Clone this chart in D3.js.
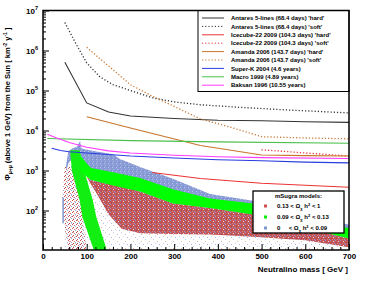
<!DOCTYPE html>
<html>
<head>
<meta charset="utf-8">
<script src="https://cdn.jsdelivr.net/npm/d3@7"></script>
<style>
  body { margin: 0; background: #fff; }
  svg { display: block; font-family: "Liberation Sans", Arial, sans-serif; font-weight: bold; }
</style>
</head>
<body>
<svg id="chart" width="374" height="281"></svg>
<script>
// limits, [mass GeV, flux km^-2 y^-1]
const antaresHard = [[50, 5.1e5], [100, 4.9e4], [150, 2.9e4], [200, 2.3e4], [300, 2.0e4], [400, 1.8e4], [500, 1.75e4], [600, 1.65e4], [700, 1.6e4]];
const antaresSoft = [[50, 5.0e6], [75, 1.5e6], [100, 4.9e5], [130, 2.2e5], [160, 1.4e5], [200, 1.0e5], [250, 6.6e4], [300, 5.2e4], [360, 4.4e4], [450, 3.8e4], [550, 3.3e4], [700, 2.75e4]];
const icecubeHard = [[250, 890], [360, 630], [500, 480], [700, 380]];
const icecubeSoft = [[500, 3300], [600, 2750], [700, 2300]];
const amandaHard = [[100, 2.2e4], [200, 1.15e4], [360, 4200], [500, 2450], [600, 2350], [700, 2300]];
const amandaSoft = [[100, 1.2e6], [150, 4.1e5], [200, 1.4e5], [250, 7.2e4], [300, 4.0e4], [360, 1.95e4], [430, 1.2e4], [500, 7000], [600, 6500], [700, 6200]];
const superK = [[20, 3600], [40, 3150], [60, 2950], [100, 2750], [200, 2300], [300, 2050], [400, 1850], [500, 1750], [600, 1620], [700, 1550]];
const macro = [[10, 6300], [200, 5600], [400, 5200], [700, 4800]];
const baksan = [[10, 8100], [30, 6600], [60, 5000], [100, 3800], [150, 3100], [200, 2750], [300, 2400], [400, 2200], [500, 2100], [700, 2000]];

// mSugra scan outlines: [mass, upper flux, lower flux]
const blueCloud = [[50, 20, 20], [53, 1400, 1000], [58, 3000, 1500], [66, 3500, 1900], [78, 4000, 2300], [85, 5500, 2600], [88, 3600, 2200], [95, 3400, 1600], [110, 3150, 580], [130, 2900, 480], [160, 2550, 420], [176, 1950, 380], [222, 1230, 300], [297, 620, 150], [382, 260, 115], [480, 175, 80], [600, 85, 37], [700, 44, 20]];
const greenBand = [[85, 2400, 1000], [100, 1500, 700], [110, 1150, 580], [160, 900, 420], [222, 650, 300], [297, 340, 150], [382, 200, 115], [480, 150, 80], [600, 64, 37], [700, 36, 20]];
const redCloud = [[100, 700, 700], [110, 580, 450], [120, 530, 300], [150, 460, 80], [180, 400, 35], [222, 300, 27], [297, 150, 26], [382, 115, 25], [480, 80, 22], [600, 37, 18], [700, 20, 12]];
// [flux, left mass, right mass]
const greenStreak = [[3200, 62, 84], [1000, 66, 94], [180, 84, 114], [69, 90, 122], [12, 114, 144], [10.3, 116, 145]];
const redWedge = [[1300, 50, 70], [200, 44, 88], [25, 52, 95], [10.3, 58, 100]];
const blueStreak = [[46, 210], [46, 48]];

const xTicks = [0, 100, 200, 300, 400, 500, 600, 700];
const yExponents = [2, 3, 4, 5, 6, 7];

const series = [
  { name: "Antares 5-lines (68.4 days) 'hard'", data: antaresHard, color: "#333", dash: null },
  { name: "Antares 5-lines (68.4 days) 'soft'", data: antaresSoft, color: "#333", dash: "1.2,2" },
  { name: "Icecube-22 2009 (104.3 days) 'hard'", data: icecubeHard, color: "#ec3232", dash: null },
  { name: "Icecube-22 2009 (104.3 days) 'soft'", data: icecubeSoft, color: "#ec3232", dash: "1.2,2" },
  { name: "Amanda 2006 (143.7 days) 'hard'", data: amandaHard, color: "#c8742c", dash: null },
  { name: "Amanda 2006 (143.7 days) 'soft'", data: amandaSoft, color: "#c8742c", dash: "1.2,2" },
  { name: "Super-K 2004 (4.6 years)", data: superK, color: "#2a3de0", dash: null },
  { name: "Macro 1999 (4.89 years)", data: macro, color: "#4cbf4c", dash: null },
  { name: "Baksan 1996 (10.55 years)", data: baksan, color: "#ff3cff", dash: null },
];

const svg = d3.select("#chart");
const x = d3.scaleLinear().domain([0, 700]).range([43, 349]);
const y = d3.scaleLog().domain([10.3, 1e7]).range([250, 10.5]);

const defs = svg.append("defs");
defs.append("clipPath").attr("id", "plot")
  .append("rect").attr("x", 43).attr("y", 10.5).attr("width", 306).attr("height", 239.5);

function addPattern(id, w, h, base, dots) {
  const p = defs.append("pattern").attr("id", id).attr("patternUnits", "userSpaceOnUse")
    .attr("width", w).attr("height", h);
  if (base) p.append("rect").attr("width", w).attr("height", h).attr("fill", base);
  dots.forEach(([dx, dy, c]) => p.append("rect").attr("x", dx).attr("y", dy).attr("width", 1).attr("height", 1).attr("fill", c));
}
addPattern("sparse", 8, 7, null, [[1, 1, "#c3cceb"], [5, 3, "#e0b0b0"], [3, 5, "#d0d7f0"], [7, 6, "#aab7e2"]]);
addPattern("blueMix", 4, 4, "#8a9cd5", [[1, 1, "#aab7e3"], [3, 2, "#758bce"], [0, 3, "#b9c3ea"]]);
addPattern("redMix", 5, 4, "#c45456", [[0, 0, "#8a9bd3"], [3, 1, "#ead6d8"], [1, 2, "#a84a4a"], [4, 3, "#8a9bd3"], [2, 3, "#d88080"]]);
addPattern("redSparse", 4, 4, null, [[0, 0, "#c85050"], [2, 1, "#d67a7a"], [1, 3, "#b84848"], [3, 2, "#9aa8d8"]]);

const line = d3.line().x((d) => x(d[0])).y((d) => y(d[1]));
const band = d3.area().x((d) => x(d[0])).y0((d) => y(d[2])).y1((d) => y(d[1]));
const strip = d3.area().y((d) => y(d[0])).x0((d) => x(d[1])).x1((d) => x(d[2]));

const clouds = svg.append("g").attr("clip-path", "url(#plot)");
clouds.append("path").attr("d", band(blueCloud.map((d) => [d[0], d[1], 10.3]))).attr("fill", "url(#sparse)");
clouds.append("path").attr("d", band(blueCloud)).attr("fill", "url(#blueMix)");
clouds.append("path").attr("d", band(redCloud)).attr("fill", "url(#redMix)");
clouds.append("path").attr("d", strip(redWedge)).attr("fill", "url(#redSparse)");
clouds.append("path").attr("d", strip(greenStreak)).attr("fill", "#12ee12");
clouds.append("path").attr("d", band(greenBand)).attr("fill", "#00ff00");
clouds.append("path").attr("d", line(blueStreak)).attr("stroke", "#7f96d0").attr("stroke-width", 1.5);

const lines = svg.append("g").attr("clip-path", "url(#plot)").attr("fill", "none");
series.forEach((s) => {
  lines.append("path").attr("d", line(s.data)).attr("stroke", s.color)
    .attr("stroke-width", s.dash ? 1.3 : 1.1).attr("stroke-dasharray", s.dash);
});

// axes
const minorY = [];
for (let e = 1; e < 7; e++) for (let k = 2; k < 10; k++) if (k * 10 ** e >= 10.3) minorY.push(k * 10 ** e);
svg.append("g").attr("transform", "translate(43,0)")
  .call(d3.axisLeft(y).tickValues(minorY).tickSize(-3).tickFormat(""))
  .call((g) => g.select(".domain").remove());
const yAxis = svg.append("g").attr("transform", "translate(43,0)")
  .call(d3.axisLeft(y).tickValues(yExponents.map((e) => 10 ** e)).tickSize(-6).tickFormat(""));
yAxis.select(".domain").remove();
yExponents.forEach((e) => {
  const t = svg.append("text").attr("x", 38).attr("y", y(10 ** e) + 3).attr("text-anchor", "end")
    .attr("font-size", 8);
  t.append("tspan").text("10");
  t.append("tspan").attr("dy", -3.5).attr("font-size", 5.5).text(e);
});

svg.append("g").attr("transform", "translate(0,250)")
  .call(d3.axisBottom(x).tickValues(d3.range(0, 701, 20).filter((v) => v % 100)).tickSize(-3).tickFormat(""))
  .call((g) => g.select(".domain").remove());
svg.append("g").attr("transform", "translate(0,250)")
  .call(d3.axisBottom(x).tickValues(xTicks).tickSize(-6).tickPadding(3))
  .call((g) => g.select(".domain").remove())
  .selectAll("text").attr("font-size", 8).attr("font-family", "Liberation Sans, Arial").attr("font-weight", "bold");

svg.append("text").attr("x", 348).attr("y", 272).attr("text-anchor", "end").attr("font-size", 8)
  .text("Neutralino mass  [ GeV ]");

const yt = svg.append("text").attr("transform", "translate(10,104) rotate(-90)").attr("text-anchor", "middle")
  .attr("font-size", 7.5);
yt.append("tspan").text("Φ");
yt.append("tspan").attr("dy", 2).attr("font-size", 5).text("μ+μ");
yt.append("tspan").attr("dy", -2).text(" (above 1 GeV) from the Sun  [ km");
yt.append("tspan").attr("dy", -3).attr("font-size", 5).text("-2");
yt.append("tspan").attr("dy", 3).text(" y");
yt.append("tspan").attr("dy", -3).attr("font-size", 5).text("-1");
yt.append("tspan").attr("dy", 3).text(" ]");

// legend of limits
const leg = svg.append("g");
leg.append("rect").attr("x", 198).attr("y", 10.5).attr("width", 151).attr("height", 81)
  .attr("fill", "#fff").attr("stroke", "#000").attr("stroke-width", 1);
series.forEach((s, i) => {
  const ly = 18 + i * 8.4;
  leg.append("line").attr("x1", 202).attr("x2", 224).attr("y1", ly).attr("y2", ly)
    .attr("stroke", s.color).attr("stroke-width", 1).attr("stroke-dasharray", s.dash);
  leg.append("text").attr("x", 231).attr("y", ly + 2.2).attr("font-size", 6).text(s.name);
});

// legend of mSugra models
const legM = svg.append("g");
legM.append("rect").attr("x", 253).attr("y", 191).attr("width", 91).attr("height", 42)
  .attr("fill", "#fff").attr("stroke", "#000").attr("stroke-width", 1.3);
legM.append("text").attr("x", 298.5).attr("y", 198).attr("text-anchor", "middle").attr("font-size", 6).text("mSugra models:");
const models = [
  { color: "#d05050", lo: "0.13", hi: "1" },
  { color: "#00ee00", lo: "0.09", hi: "0.13" },
  { color: "#7f96d0", lo: "0    ", hi: "0.09" },
];
models.forEach((m, i) => {
  const my = 206 + i * 11;
  legM.append("rect").attr("x", 264).attr("y", my - 1.5).attr("width", 3).attr("height", 3).attr("fill", m.color);
  const t = legM.append("text").attr("x", 277).attr("y", my + 2).attr("font-size", 6).attr("xml:space", "preserve");
  t.append("tspan").text(m.lo + " < Ω");
  t.append("tspan").attr("dy", 1.5).attr("font-size", 4).text("χ");
  t.append("tspan").attr("dy", -1.5).text(" h");
  t.append("tspan").attr("dy", -2.5).attr("font-size", 4).text("2");
  t.append("tspan").attr("dy", 2.5).text(" < " + m.hi);
});

// frame
svg.append("rect").attr("x", 43).attr("y", 10.5).attr("width", 306).attr("height", 239.5)
  .attr("fill", "none").attr("stroke", "#000").attr("stroke-width", 1.5);
</script>
</body>
</html>
